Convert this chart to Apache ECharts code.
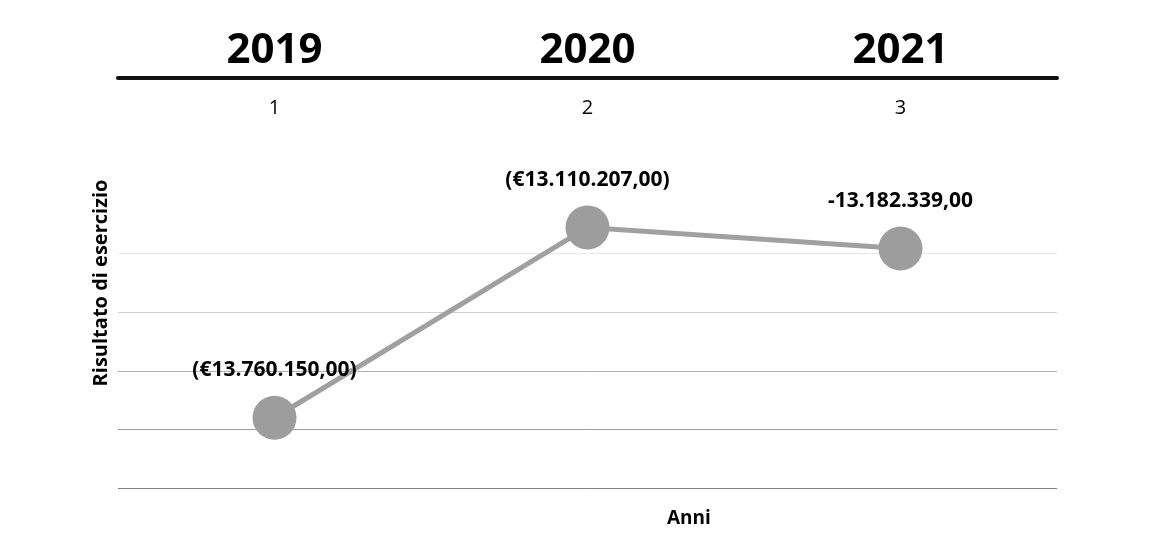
<!DOCTYPE html>
<html>
<head>
<meta charset="utf-8">
<script src="https://cdn.jsdelivr.net/npm/echarts@6/dist/echarts.min.js"></script>
<style>
  html, body { margin: 0; padding: 0; background: #fff; }
  #chart { width: 1176px; height: 537px; }
</style>
</head>
<body>
<div id="chart"></div>
<script>
const years = ['2019', '2020', '2021'];
const tickLabels = ['1', '2', '3'];
const values = [-13760150, -13110207, -13182339];
const labelTexts = ['(€13.760.150,00)', '(€13.110.207,00)', '-13.182.339,00'];
const yAxisTitle = 'Risultato di esercizio';
const xAxisTitle = 'Anni';

const FONT = '"Open Sans", "Noto Sans", sans-serif';
const chart = echarts.init(document.getElementById('chart'));

chart.setOption({
  animation: false,
  backgroundColor: '#fff',
  textStyle: { fontFamily: FONT },
  grid: { left: 118, right: 119, top: 78, bottom: 49, containLabel: false },
  xAxis: [
    {
      type: 'category',
      position: 'top',
      data: years,
      boundaryGap: true,
      axisLine: { show: true, lineStyle: { color: '#111', width: 4 } },
      axisTick: { show: false },
      splitLine: { show: false },
      axisLabel: {
        show: true, margin: 6, color: '#000',
        fontSize: 42, fontWeight: 'bold', fontFamily: FONT
      }
    },
    {
      type: 'category',
      position: 'top',
      data: tickLabels,
      boundaryGap: true,
      axisLine: { show: false },
      axisTick: { show: false },
      splitLine: { show: false },
      axisLabel: {
        show: true, inside: true, margin: 20, color: '#000',
        fontSize: 20, fontFamily: FONT
      }
    }
  ],
  yAxis: {
    type: 'value',
    min: -14000000,
    max: -12600000,
    interval: 200000,
    name: yAxisTitle,
    nameLocation: 'middle',
    nameRotate: 90,
    nameGap: 7,
    nameTextStyle: { fontSize: 20, fontWeight: 'bold', color: '#000', fontFamily: FONT },
    axisLine: { show: false },
    axisTick: { show: false },
    axisLabel: { show: false },
    splitLine: {
      show: true,
      lineStyle: {
        width: 1,
        color: ['#808080', '#9c9c9c', '#b0b0b0', '#cfcfcf', '#e8e8e8',
                'rgba(0,0,0,0)', 'rgba(0,0,0,0)', 'rgba(0,0,0,0)']
      }
    }
  },
  graphic: [
    {
      type: 'text',
      left: 667,
      top: 509,
      style: {
        text: xAxisTitle,
        fontSize: 19,
        fontWeight: 'bold',
        fontFamily: FONT,
        fill: '#000'
      }
    }
  ],
  series: [
    {
      type: 'line',
      xAxisIndex: 0,
      data: values,
      symbol: 'circle',
      symbolSize: 44,
      lineStyle: { color: '#a0a0a0', width: 5 },
      itemStyle: { color: '#9d9d9d' },
      label: {
        show: true,
        position: 'top',
        distance: 15,
        fontSize: 21,
        fontWeight: 'bold',
        fontFamily: FONT,
        color: '#000',
        formatter: (p) => labelTexts[p.dataIndex]
      }
    }
  ]
});
</script>
</body>
</html>
